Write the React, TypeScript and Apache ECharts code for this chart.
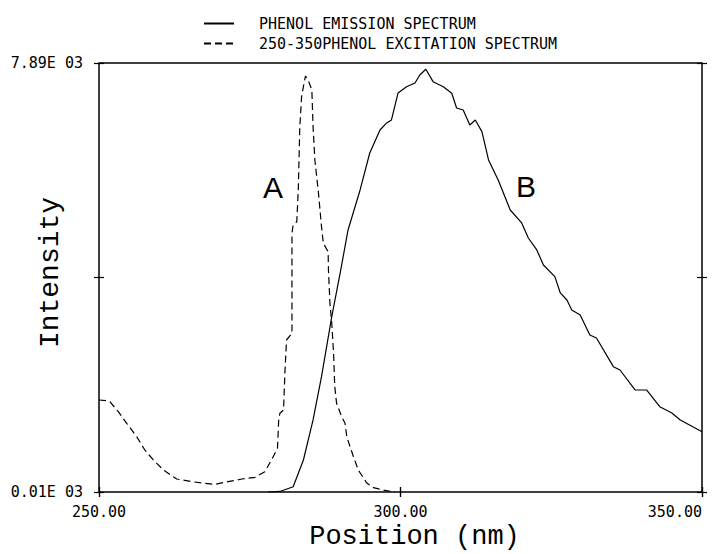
import React, { useEffect, useRef } from "react";
import * as echarts from "echarts";

// Emission spectrum (solid, "B") — wavelength nm, intensity
const emissionNm = [278, 280, 282.2, 283.9, 285.5, 286.9, 288.6, 290.0, 291.3, 293.3, 294.9, 296.6, 297.7, 298.5, 299.6, 301.0, 302.4, 303.2, 304.2, 305.4, 307.1, 308.5, 309.3, 310.4, 311.5, 312.4, 313.5, 314.6, 316.2, 318.2, 320.1, 321.2, 322.6, 323.7, 325.6, 326.5, 327.6, 328.4, 329.8, 331.4, 332.5, 335.3, 336.4, 338.9, 340.8, 343.0, 345.0, 346.4, 350.0];
const emissionVal = [10, 20, 107, 598, 1333, 2128, 3230, 4033, 4823, 5558, 6237, 6660, 6789, 6844, 7340, 7455, 7523, 7670, 7775, 7547, 7455, 7334, 7064, 7027, 6752, 6844, 6629, 6109, 5741, 5190, 4952, 4676, 4456, 4180, 3965, 3666, 3537, 3353, 3261, 2894, 2839, 2312, 2251, 1884, 1884, 1577, 1461, 1333, 1118];

// Excitation spectrum (dashed, "A")
const excitationNm = [250.0, 251.3, 251.8, 253.2, 254.6, 256.25, 257.6, 259.0, 260.7, 262.9, 265.4, 267.6, 269.2, 271.4, 273.7, 275.9, 277.5, 278.6, 279.6, 279.8, 280.0, 280.6, 280.85, 281.1, 282.0, 282.0, 282.0, 282.2, 282.8, 283.05, 283.3, 283.6, 283.9, 284.24, 284.8, 285.3, 285.5, 285.8, 286.4, 286.9, 287.2, 288.0, 288.05, 288.3, 288.6, 288.9, 289.1, 289.4, 290.25, 290.8, 291.1, 292.2, 293.0, 294.4, 295.5, 297.1, 299.1];
const excitationVal = [1700, 1687, 1669, 1485, 1272, 1026, 782, 598, 414, 249, 199, 170, 151, 199, 249, 280, 383, 598, 813, 1333, 1456, 1516, 2251, 2802, 2925, 4028, 4768, 4915, 4975, 5558, 6721, 7272, 7455, 7652, 7542, 7395, 6721, 6109, 5497, 4884, 4579, 4424, 4088, 3476, 3109, 2558, 1944, 1639, 1393, 1272, 1020, 658, 414, 175, 90, 47, 10];

const seriesNames = ["PHENOL EMISSION SPECTRUM", "250-350PHENOL EXCITATION SPECTRUM"];
const xTicks = [250, 300, 350];
const yRange = [10, 7890];
const yTickLabels = ["0.01E 03", "", "7.89E 03"];
const peakLabels = ["A", "B"];

export default function App() {
  const ref = useRef<HTMLDivElement>(null);
  useEffect(() => {
    document.body.style.margin = "0";
    const chart = echarts.init(ref.current!, null, { renderer: "svg" });
    const mono = "DejaVu Sans Mono";
    const nameFont = "Liberation Mono";
    const xBase = {
      type: "value" as const,
      min: xTicks[0],
      max: xTicks[xTicks.length - 1],
      interval: xTicks[1] - xTicks[0],
      splitLine: { show: false },
      axisLine: { show: false },
      axisLabel: { show: false },
    };
    const yBase = {
      type: "value" as const,
      min: 0,
      max: yTickLabels.length - 1,
      interval: 1,
      splitLine: { show: false },
      axisLine: { show: false },
      axisLabel: { show: false },
    };
    const tick = (inside: boolean) => ({ show: true, inside, length: 5, lineStyle: { color: "#000", width: 1.2 } });
    chart.setOption({
      animation: false,
      backgroundColor: "#fff",
      grid: {
        left: 99, right: 10, top: 63, bottom: 62,
        outerBoundsMode: "none",
        containLabel: false,
        show: true, borderColor: "#000", borderWidth: 1.5,
      },
      legend: {
        orient: "vertical",
        left: 203,
        top: 16,
        padding: 0,
        itemWidth: 30,
        itemHeight: 14,
        itemGap: 5,
        data: seriesNames,
        itemStyle: { opacity: 0 },
        textStyle: { fontFamily: mono, fontSize: 15, color: "#000", padding: [0, 0, 0, 20] },
      },
      xAxis: [
        {
          ...xBase,
          position: "bottom",
          axisTick: tick(false),
          axisLabel: {
            show: true,
            formatter: (v: number) => v.toFixed(2),
            fontFamily: mono,
            fontSize: 15,
            color: "#000",
            margin: 12,
            alignMaxLabel: "right",
          },
          name: "Position (nm)",
          nameLocation: "middle",
          nameGap: 31,
          nameMoveOverlap: false,
          nameTextStyle: { fontFamily: nameFont, fontSize: 27, lineHeight: 27, color: "#000", padding: [0, 0, 0, 28] },
        },
        { ...xBase, position: "bottom", axisTick: tick(true) },
        { ...xBase, position: "top", axisTick: tick(false) },
        { ...xBase, position: "top", axisTick: tick(true) },
      ],
      yAxis: [
        { type: "value", min: yRange[0], max: yRange[1], show: false },
        {
          ...yBase,
          position: "left",
          axisTick: tick(false),
          axisLabel: {
            show: true,
            formatter: (v: number) => yTickLabels[Math.round(v)] ?? "",
            fontFamily: mono,
            fontSize: 15,
            color: "#000",
            margin: 16,
          },
          name: "Intensity",
          nameLocation: "middle",
          nameGap: 35,
          nameMoveOverlap: false,
          nameTextStyle: { fontFamily: nameFont, fontSize: 28, color: "#000", padding: [0, 0, 0, 10] },
        },
        { ...yBase, position: "left", axisTick: tick(true) },
        { ...yBase, position: "right", axisTick: tick(false) },
        { ...yBase, position: "right", axisTick: tick(true) },
      ],
      graphic: [
        { type: "text", left: 263, top: 172, style: { text: peakLabels[0], font: "30px 'Liberation Sans'", fill: "#000" } },
        { type: "text", left: 516, top: 171, style: { text: peakLabels[1], font: "30px 'Liberation Sans'", fill: "#000" } },
      ],
      series: [
        {
          name: seriesNames[0],
          type: "line",
          xAxisIndex: 0,
          yAxisIndex: 0,
          showSymbol: false,
          symbol: "none",
          lineStyle: { color: "#000", width: 1.2, type: "solid" },
          itemStyle: { color: "#000" },
          data: emissionNm.map((x, i) => [x, emissionVal[i]]),
        },
        {
          name: seriesNames[1],
          type: "line",
          xAxisIndex: 0,
          yAxisIndex: 0,
          showSymbol: false,
          symbol: "none",
          lineStyle: { color: "#000", width: 1.2, type: [7, 4] },
          itemStyle: { color: "#000" },
          data: excitationNm.map((x, i) => [x, excitationVal[i]]),
        },
      ],
    });
    return () => chart.dispose();
  }, []);
  return <div ref={ref} style={{ position: "fixed", left: 0, top: 0, width: 712, height: 554 }} />;
}
